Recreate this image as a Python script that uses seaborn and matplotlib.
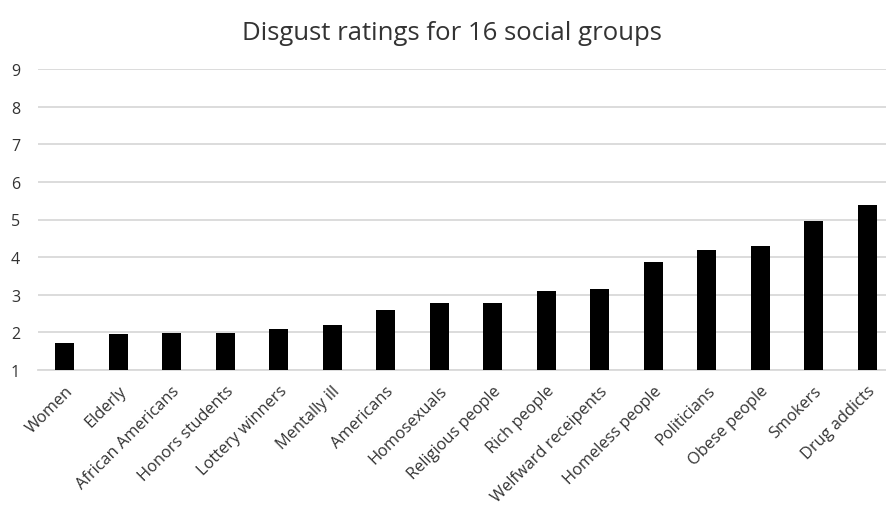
import matplotlib
matplotlib.use("Agg")
import matplotlib.pyplot as plt
import seaborn as sns
import pandas as pd

groups = ["Women", "Elderly", "African Americans", "Honors students",
          "Lottery winners", "Mentally ill", "Americans", "Homosexuals",
          "Religious people", "Rich people", "Welfward receipents",
          "Homeless people", "Politicians", "Obese people", "Smokers",
          "Drug addicts"]
ratings = [1.72, 1.96, 1.98, 1.99, 2.08, 2.20, 2.59, 2.79,
           2.79, 3.10, 3.15, 3.86, 4.19, 4.30, 4.96, 5.39]
y_ticks = [1, 2, 3, 4, 5, 6, 7, 8, 9]
title = "Disgust ratings for 16 social groups"

baseline = 1
df = pd.DataFrame({"group": groups, "rating": ratings})
df["height"] = df["rating"] - baseline

sns.set_theme(style="white")
plt.rcParams["font.family"] = ["Open Sans", "DejaVu Sans"]
text_color = "#333333"
grid_color = "#d9d9d9"

fig = plt.figure(figsize=(8.87, 5.10), dpi=100)
W, H = 887, 510
ax = fig.add_axes([38 / W, 1 - 371 / H, 856 / W, (371 - 70) / H])

sns.barplot(data=df, x="group", y="height", bottom=baseline, color="black",
            width=0.35, saturation=1, ax=ax, zorder=3)
for p in ax.patches:
    p.set_edgecolor("none")

ax.set_ylim(1, 9)
ax.set_xlim(-0.5, len(groups) - 0.5)
ax.set_yticks(y_ticks)
ax.set_yticklabels([str(t) for t in y_ticks], fontsize=11.5, color=text_color)
ax.yaxis.grid(True, color=grid_color, linewidth=1.3, zorder=0)
ax.set_axisbelow(True)
ax.tick_params(axis="y", length=0, pad=13)
ax.tick_params(axis="x", length=0, pad=9)
ax.set_xticks(range(len(groups)))
ax.set_xticklabels(groups, rotation=45, ha="right", rotation_mode="anchor",
                   fontsize=11.8, color=text_color)
ax.set_xlabel("")
ax.set_ylabel("")
for side in ["top", "right", "left"]:
    ax.spines[side].set_visible(False)
ax.spines["bottom"].set_color(grid_color)
ax.spines["bottom"].set_linewidth(1.3)

fig.text(452 / W, 1 - 33 / H, title, ha="center", va="center",
         fontsize=18.5, color=text_color)

fig.savefig("out.png", dpi=100, facecolor="white")
